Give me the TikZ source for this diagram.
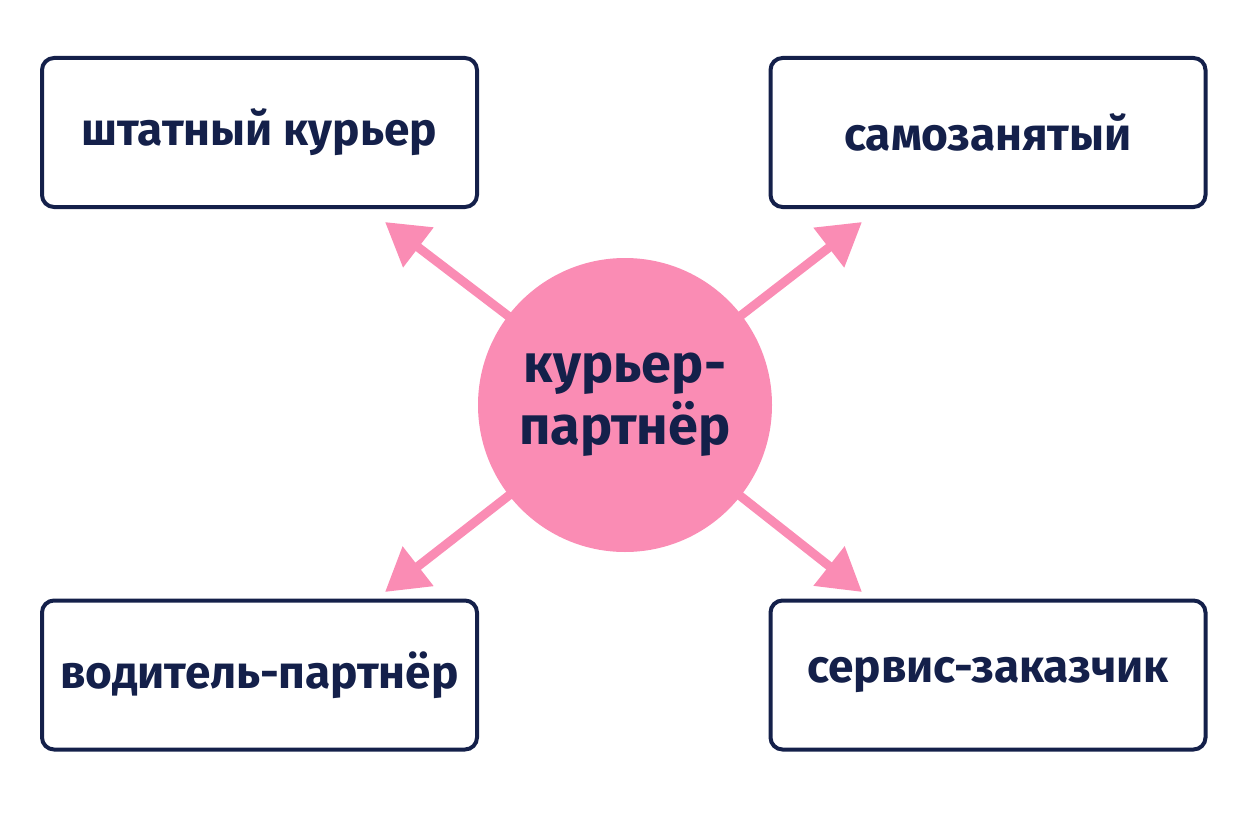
\documentclass[tikz,border=0pt]{standalone}
\usepackage{fontspec}
\setmainfont{Fira Sans}
\usetikzlibrary{arrows.meta}
\definecolor{navy}{HTML}{14204A}
\definecolor{rose}{HTML}{FA8CB4}
\begin{document}
\begin{tikzpicture}
[x=1pt, y=-1pt,
 every node/.style={align=center, text=navy, font=\fontsize{46}{50}\selectfont\bfseries},
 nodeBox/.style={draw=navy, line width=4pt, rounded corners=12pt,
   minimum width=435pt, minimum height=149pt},
 nodeHub/.style={circle, fill=rose, minimum size=294pt, inner sep=0pt,
   font=\fontsize{54}{62}\selectfont\bfseries},
 linkArrow/.style={draw=rose, line width=9pt,
   -{Triangle[length=42pt, width=48pt]}}
]
\useasboundingbox (0,0) rectangle (1248,832);
\coordinate (T1) at (385, 222);
\coordinate (T2) at (862, 222);
\coordinate (T3) at (385, 592);
\coordinate (T4) at (862, 592);
\coordinate (C) at (625, 405);
% arrows behind the hub
\draw[linkArrow] (C) -- (T1);
\draw[linkArrow] (C) -- (T2);
\draw[linkArrow] (C) -- (T3);
\draw[linkArrow] (C) -- (T4);
\node[nodeHub] (hub) at (C) {курьер-\\партнёр};
\node[nodeBox] (B1) at (259.5, 132.5) {штатный курьер};
\node[nodeBox] (B2) at (988, 132.5) {самозанятый};
\node[nodeBox] (B3) at (259.5, 675) {водитель-партнёр};
\node[nodeBox] (B4) at (988, 675) {сервис-заказчик};
\end{tikzpicture}
\end{document}
